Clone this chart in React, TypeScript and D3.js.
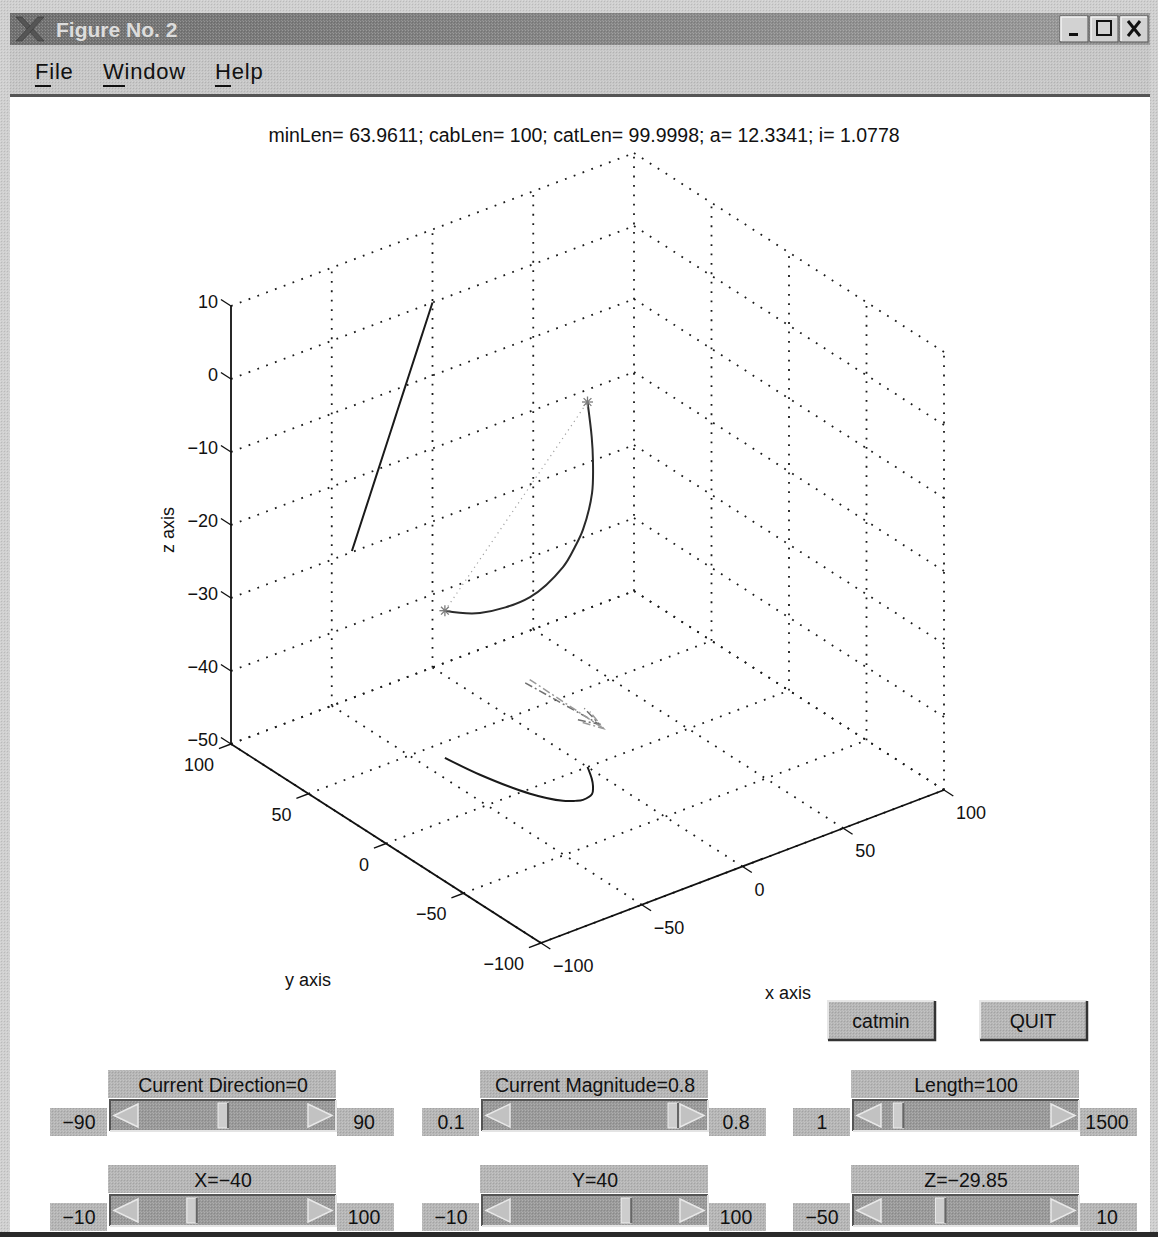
import * as d3 from "d3";

const FONT = "'Liberation Sans', Arial, Helvetica, sans-serif";

const TITLE =
  "minLen= 63.9611; cabLen= 100; catLen= 99.9998; a= 12.3341; i= 1.0778";
const X_TICKS = [-100, -50, 0, 50, 100];
const Y_TICKS = [-100, -50, 0, 50, 100];
const Z_TICKS = [-50, -40, -30, -20, -10, 0, 10];

// cable (x, y, z)
const CABLE_X = [-40, -37.3, -30.9, -24.1, -20.35, -17.4, -11.75, -7.3, -4.3, 0];
const CABLE_Y = [40, 20.9, -3.1, -15.5, -18.4, -19.7, -18.2, -13, -8.3, 0];
const CABLE_Z = [-29.85, -27.84, -23.06, -17.98, -15.19, -12.98, -8.77, -5.45, -3.21, 0];

// current arrows (start / end)
const ARROW_START = [
  [-14, 22, -40],
  [-11, 23, -40],
];
const ARROW_END = [
  [-11, -22, -40],
  [-10, -23.5, -40.5],
];

const SLIDER_LABELS = [
  "Current Direction=0",
  "Current Magnitude=0.8",
  "Length=100",
  "X=\u221240",
  "Y=40",
  "Z=\u221229.85",
];
const SLIDER_MIN = ["\u221290", "0.1", "1", "\u221210", "\u221210", "\u221250"];
const SLIDER_MAX = ["90", "0.8", "1500", "100", "100", "10"];
const SLIDER_DOMAIN = [
  [-90, 90],
  [0.1, 0.8],
  [1, 1500],
  [-100, 100],
  [-100, 100],
  [-50, 10],
];
const SLIDER_VALUE = [0, 0.8, 100, -40, 40, -29.85];

const MENU = ["File", "Window", "Help"];
const BUTTONS = ["catmin", "QUIT"];

const fmt = (v: number) => (v < 0 ? "\u2212" + Math.abs(v) : String(v));

const UI_FONT = 19.5;

const Slider = ({ i }: { i: number }) => {
  const COLS = [110, 482, 853];
  const ROWS = [1070, 1165];
  const x0 = COLS[i % 3];
  const y0 = ROWS[Math.floor(i / 3)];
  const w = 226;
  const ty = y0 + 30;
  const th = 31;
  const arrowW = 28;
  const thumbW = 10;
  const [lo, hi] = SLIDER_DOMAIN[i];
  const thumb = d3
    .scaleLinear()
    .domain([lo, hi])
    .range([x0 + arrowW + 2, x0 + w - arrowW - thumbW - 2])
    .clamp(true);
  const tx = thumb(SLIDER_VALUE[i]);
  const boxY = ty + 8;
  const boxH = Math.min(28, 1232 - boxY);
  return (
    <g fontFamily={FONT}>
      {/* label */}
      <rect x={x0 - 2} y={y0} width={w + 2} height={28} fill="#b5b5b5" />
      <rect x={x0 - 2} y={y0} width={w + 2} height={28} fill="url(#dither)" />
      <text x={x0 + w / 2} y={y0 + 15} textAnchor="middle" dominantBaseline="central" fontSize={UI_FONT} fill="#111">
        {SLIDER_LABELS[i]}
      </text>
      {/* trough */}
      <rect x={x0} y={ty} width={w} height={th} fill="#999" />
      <rect x={x0} y={ty} width={w} height={th} fill="url(#dither)" />
      <path d={`M${x0},${ty + th} V${ty} H${x0 + w}`} fill="none" stroke="#555" strokeWidth={2} />
      <path d={`M${x0},${ty + th} H${x0 + w} V${ty}`} fill="none" stroke="#e4e4e4" strokeWidth={2} />
      {/* arrows */}
      <path
        d={`M${x0 + 4},${ty + th / 2} L${x0 + arrowW},${ty + 4} L${x0 + arrowW},${ty + th - 4} Z`}
        fill="#c2c2c2"
        stroke="#e8e8e8"
        strokeWidth={1.5}
      />
      <path
        d={`M${x0 + w - 4},${ty + th / 2} L${x0 + w - arrowW},${ty + 4} L${x0 + w - arrowW},${ty + th - 4} Z`}
        fill="#c2c2c2"
        stroke="#e8e8e8"
        strokeWidth={1.5}
      />
      {/* thumb */}
      <rect x={tx} y={ty + 3} width={thumbW} height={th - 6} fill="#cdcdcd" stroke="#eee" strokeWidth={1} />
      <line x1={tx + thumbW} x2={tx + thumbW} y1={ty + 3} y2={ty + th - 3} stroke="#666" strokeWidth={2} />
      {/* min / max boxes */}
      <rect x={x0 - 60} y={boxY} width={57} height={boxH} fill="#b5b5b5" />
      <rect x={x0 - 60} y={boxY} width={57} height={boxH} fill="url(#dither)" />
      <text x={x0 - 31} y={boxY + 14} textAnchor="middle" dominantBaseline="central" fontSize={UI_FONT} fill="#111">
        {SLIDER_MIN[i]}
      </text>
      <rect x={x0 + w + 1} y={boxY} width={57} height={boxH} fill="#b5b5b5" />
      <rect x={x0 + w + 1} y={boxY} width={57} height={boxH} fill="url(#dither)" />
      <text x={x0 + w + 28} y={boxY + 14} textAnchor="middle" dominantBaseline="central" fontSize={UI_FONT} fill="#111">
        {SLIDER_MAX[i]}
      </text>
    </g>
  );
};

export default function App() {
  const width = 1158;
  const height = 1237;

  // 3D box projection (MATLAB view), fitted to the picture
  const xS = d3.scaleLinear().domain([-100, 100]).range([0, 1]);
  const yS = d3.scaleLinear().domain([-100, 100]).range([0, 1]);
  const zS = d3.scaleLinear().domain([-50, 10]).range([0, 1]);
  const ORIGIN = [541, 943];
  const XV = [403, -153];
  const YV = [-310, -199];
  const ZV = [0, -438];
  const P = (x: number, y: number, z: number): [number, number] => [
    ORIGIN[0] + xS(x) * XV[0] + yS(y) * YV[0] + zS(z) * ZV[0],
    ORIGIN[1] + xS(x) * XV[1] + yS(y) * YV[1] + zS(z) * ZV[1],
  ];

  const seg = (a: [number, number], b: [number, number], key: string, props: any) => (
    <line key={key} x1={a[0]} y1={a[1]} x2={b[0]} y2={b[1]} {...props} />
  );

  const dotted = { stroke: "#1a1a1a", strokeWidth: 1.8, strokeDasharray: "1.8 7.6" };
  const grid: any[] = [];
  Z_TICKS.forEach((z) => {
    grid.push(seg(P(-100, 100, z), P(100, 100, z), "wy" + z, dotted));
    grid.push(seg(P(100, 100, z), P(100, -100, z), "wx" + z, dotted));
  });
  X_TICKS.forEach((x) => {
    if (x > -100) grid.push(seg(P(x, 100, -50), P(x, 100, 10), "vx" + x, dotted));
    grid.push(seg(P(x, -100, -50), P(x, 100, -50), "fx" + x, dotted));
  });
  Y_TICKS.forEach((y) => {
    if (y < 100) grid.push(seg(P(100, y, -50), P(100, y, 10), "vy" + y, dotted));
    grid.push(seg(P(-100, y, -50), P(100, y, -50), "fy" + y, dotted));
  });

  const solid = { stroke: "#111", strokeWidth: 1.8 };
  const axes = [
    seg(P(-100, 100, -50), P(-100, 100, 10), "az", solid),
    seg(P(-100, -100, -50), P(-100, 100, -50), "ay", solid),
    seg(P(-100, -100, -50), P(100, -100, -50), "ax", solid),
  ];
  const tickProps = { stroke: "#111", strokeWidth: 1.4 };
  const ticks = [
    ...Z_TICKS.map((z) => seg(P(-100, 100, z), P(-100, 106.5, z), "tz" + z, tickProps)),
    ...Y_TICKS.map((y) => seg(P(-100, y, -50), P(-106, y, -50), "ty" + y, tickProps)),
    ...X_TICKS.map((x) => seg(P(x, -100, -50), P(x, -106, -50), "tx" + x, tickProps)),
  ];

  const cablePts = CABLE_X.map((x, i) => [x, CABLE_Y[i], CABLE_Z[i]]);
  const line = d3.line<[number, number]>().curve(d3.curveCatmullRom.alpha(0.5));
  const main = line(cablePts.map((p) => P(p[0], p[1], p[2])));
  const floorShadow = line(cablePts.map((p) => P(p[0], p[1], -50)));
  const wallShadow = line(cablePts.map((p) => P(p[0], 100, p[2])));

  const s1 = P(CABLE_X[0], CABLE_Y[0], CABLE_Z[0]);
  const n = CABLE_X.length - 1;
  const s2 = P(CABLE_X[n], CABLE_Y[n], CABLE_Z[n]);

  const star = (c: [number, number], key: string) => (
    <g key={key} stroke="#7a7a7a" strokeWidth={1.3}>
      {[0, 45, 90, 135].map((a) => {
        const r = 5.5;
        const dx = r * Math.cos((a * Math.PI) / 180);
        const dy = r * Math.sin((a * Math.PI) / 180);
        return <line key={a} x1={c[0] - dx} y1={c[1] - dy} x2={c[0] + dx} y2={c[1] + dy} />;
      })}
    </g>
  );

  const arrows = ARROW_START.map((st, i) => {
    const a = P(st[0], st[1], st[2]);
    const e = ARROW_END[i];
    const b = P(e[0], e[1], e[2]);
    const ang = Math.atan2(b[1] - a[1], b[0] - a[0]);
    const hl = 22;
    const h1 = [b[0] - hl * Math.cos(ang - 0.3), b[1] - hl * Math.sin(ang - 0.3)];
    const h2 = [b[0] - hl * Math.cos(ang + 0.3), b[1] - hl * Math.sin(ang + 0.3)];
    const col = i === 0 ? "#707070" : "#9a9a9a";
    return (
      <g key={i} stroke={col} strokeWidth={1.5} fill="none">
        <line x1={a[0]} y1={a[1]} x2={b[0]} y2={b[1]} strokeDasharray="8 3 2 3" />
        <path d={`M${h1[0]},${h1[1]} L${b[0]},${b[1]} L${h2[0]},${h2[1]}`} strokeDasharray="8 3 2 3" />
      </g>
    );
  });

  const labelProps = { fontSize: 18, fill: "#111", dominantBaseline: "central" as const };

  return (
    <div style={{ position: "absolute", left: 0, top: 0 }}>
      <svg width={width} height={height} style={{ display: "block" }} fontFamily={FONT}>
        <defs>
          <pattern id="dither" width={3} height={3} patternUnits="userSpaceOnUse">
            <rect x={0} y={0} width={1} height={1} fill="#fff" opacity={0.22} />
            <rect x={1} y={1} width={1} height={1} fill="#000" opacity={0.1} />
            <rect x={2} y={2} width={1} height={1} fill="#fff" opacity={0.15} />
          </pattern>
          <linearGradient id="titlebar" x1="0" x2="1" y1="0" y2="0">
            <stop offset="0" stopColor="#6f6f6f" />
            <stop offset="1" stopColor="#9a9a9a" />
          </linearGradient>
        </defs>

        {/* window frame */}
        <rect x={0} y={0} width={width} height={height} fill="#cfcfcf" />
        <rect x={0} y={0} width={width} height={height} fill="url(#dither)" />
        <rect x={10} y={13} width={1140} height={32} fill="url(#titlebar)" />
        <rect x={10} y={13} width={1140} height={32} fill="url(#dither)" />
        <g transform="translate(16,17)" fill="#555" stroke="#333" strokeWidth={0.5}>
          <path d="M0,0 L6,0 L28,24 L22,24 Z" />
          <path d="M22,0 L28,0 L6,24 L0,24 Z" />
        </g>
        <text x={56} y={37} fontSize={21} fontWeight="bold" fill="#dcdcdc" fontFamily={FONT}>
          Figure No. 2
        </text>
        {[0, 1, 2].map((k) => {
          const bx = 1060 + k * 30;
          return (
            <g key={k}>
              <rect x={bx} y={16} width={28} height={26} fill="#d2d2d2" stroke="#555" strokeWidth={1} />
              <path d={`M${bx + 1},${41} V17 H${bx + 27}`} stroke="#f4f4f4" strokeWidth={1.5} fill="none" />
              {k === 0 && <rect x={bx + 9} y={33} width={9} height={3} fill="#111" />}
              {k === 1 && <rect x={bx + 7} y={21} width={14} height={14} fill="none" stroke="#111" strokeWidth={2} />}
              {k === 2 && (
                <path d={`M${bx + 8},${21} L${bx + 20},${36} M${bx + 20},${21} L${bx + 8},${36}`} stroke="#111" strokeWidth={3} />
              )}
            </g>
          );
        })}

        {/* menu bar */}
        <rect x={10} y={45} width={1140} height={50} fill="#c6c6c6" />
        <rect x={10} y={45} width={1140} height={50} fill="url(#dither)" />
        {MENU.map((m, i) => {
          const mx = [35, 103, 215][i];
          return (
            <g key={m}>
              <text x={mx} y={79} fontSize={22} letterSpacing={0.8} fill="#111">
                {m}
              </text>
              <line x1={mx} x2={mx + (i === 1 ? 22 : 16)} y1={86} y2={86} stroke="#111" strokeWidth={2} />
            </g>
          );
        })}
        <rect x={10} y={94} width={1140} height={3} fill="#555" />

        {/* figure area */}
        <rect x={10} y={97} width={1140} height={1135} fill="#fff" />
        <rect x={0} y={1232} width={width} height={5} fill="#2a2a2a" />

        <text x={584} y={135} textAnchor="middle" dominantBaseline="central" fontSize={19.5} fill="#111">
          {TITLE}
        </text>

        {grid}
        {axes}
        {ticks}

        {Z_TICKS.map((z) => {
          const p = P(-100, 100, z);
          return (
            <text key={z} x={p[0] - 13} y={p[1] - 4} textAnchor="end" {...labelProps}>
              {fmt(z)}
            </text>
          );
        })}
        {Y_TICKS.map((y) => {
          const p = P(-100, y, -50);
          return (
            <text key={y} x={p[0] - 17} y={p[1] + 21} textAnchor="end" {...labelProps}>
              {fmt(y)}
            </text>
          );
        })}
        {X_TICKS.map((x) => {
          const p = P(x, -100, -50);
          return (
            <text key={x} x={p[0] + 12} y={p[1] + 23} textAnchor="start" {...labelProps}>
              {fmt(x)}
            </text>
          );
        })}

        <text x={168} y={530} textAnchor="middle" transform="rotate(-90,168,530)" {...labelProps}>
          z axis
        </text>
        <text x={308} y={980} textAnchor="middle" {...labelProps}>
          y axis
        </text>
        <text x={788} y={993} textAnchor="middle" {...labelProps}>
          x axis
        </text>

        {/* cable and its shadows */}
        <line x1={s1[0]} y1={s1[1]} x2={s2[0]} y2={s2[1]} stroke="#a0a0a0" strokeWidth={1.2} strokeDasharray="1.2 4" />
        <path d={wallShadow || ""} fill="none" stroke="#1a1a1a" strokeWidth={2} />
        <path d={floorShadow || ""} fill="none" stroke="#1a1a1a" strokeWidth={2} />
        <path d={main || ""} fill="none" stroke="#2a2a2a" strokeWidth={2} />
        {star(s1, "s1")}
        {star(s2, "s2")}
        {arrows}

        {/* buttons */}
        {BUTTONS.map((b, i) => {
          const bx = [828, 980][i];
          return (
            <g key={b}>
              <rect x={bx} y={1001} width={107} height={39} fill="#b5b5b5" />
              <rect x={bx} y={1001} width={107} height={39} fill="url(#dither)" />
              <path d={`M${bx},${1040} V1001 H${bx + 107}`} fill="none" stroke="#e6e6e6" strokeWidth={2} />
              <path d={`M${bx},${1040} H${bx + 107} V1001`} fill="none" stroke="#333" strokeWidth={2.5} />
              <text x={bx + 53} y={1021} textAnchor="middle" dominantBaseline="central" fontSize={UI_FONT} fill="#111">
                {b}
              </text>
            </g>
          );
        })}

        {SLIDER_LABELS.map((_, i) => (
          <Slider key={i} i={i} />
        ))}
      </svg>
    </div>
  );
}
